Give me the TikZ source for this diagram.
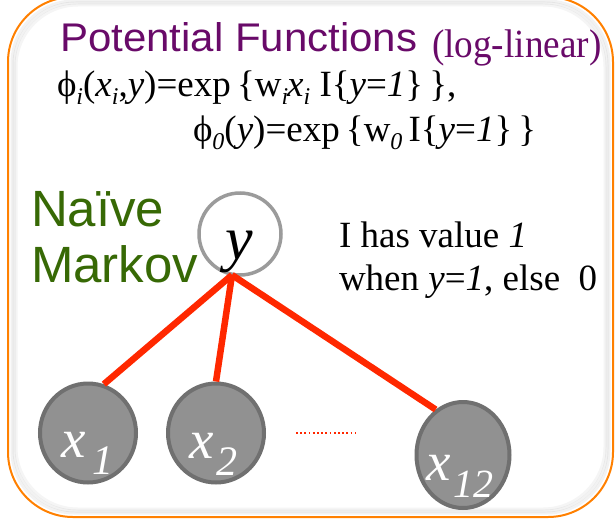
\documentclass[tikz,border=0pt]{standalone}
\usepackage{fontspec}
\setmainfont{Liberation Serif}
\newfontfamily\sansf{Liberation Sans}
\usetikzlibrary{shapes.geometric}
\definecolor{orangeb}{RGB}{255,128,0}
\definecolor{purp}{RGB}{105,10,105}
\definecolor{greenn}{RGB}{55,105,5}
\definecolor{redl}{RGB}{255,40,0}
\definecolor{nodefill}{RGB}{145,145,145}
\definecolor{nodedraw}{RGB}{112,112,112}
\definecolor{ycirc}{RGB}{155,155,155}
\newcommand\fs[1]{\fontsize{#1}{#1}\selectfont}
\newcommand\sbi[1]{\raisebox{-0.22em}{\fs{24}\itshape #1}}
\begin{document}
\begin{tikzpicture}[x=1pt,y=-1pt,
  txt/.style={anchor=base west,inner sep=0pt,outer sep=0pt},
  obs/.style={ellipse,draw=nodedraw,fill=nodefill,line width=4pt,inner sep=0pt},
  edgeline/.style={draw=redl,line width=6.5pt},
  shade/.style={draw=black,line width=3pt,rounded corners=62pt}
]
\useasboundingbox (0,0) rectangle (615,519);
\fill[white] (0,0) rectangle (615,519);
% soft shadow
\draw[shade,opacity=0.05] (12,1) rectangle (609,513);
\draw[shade,opacity=0.05] (14,3) rectangle (607,511);
\draw[shade,opacity=0.04] (16,5) rectangle (605,509);
\draw[orangeb,line width=2pt,rounded corners=65pt] (8,-3) rectangle (613,517);
% texts
\node[txt,text=purp] (title) at (60,52) {\scalebox{1.05}[1]{\sansf\fs{40}Potential Functions}};
\node[txt,text=purp] (loglin) at (432,58) {\scalebox{0.93}[1]{\fs{40}(log-linear)}};
\node[txt] (eq1) at (57,96) {\fs{37}ϕ\sbi{i}(\textit{x}\sbi{i},\textit{y})=exp\,\{w\sbi{i}\kern-1pt\textit{x}\sbi{i} I\{\textit{y}=\textit{1}\}\,\},};
\node[txt] (eq2) at (193,141) {\fs{37}ϕ\sbi{0}(\textit{y})=exp\,\{w\sbi{0}\,I\{\textit{y}=\textit{1}\}\,\}};
\node[txt,text=greenn] (naive) at (31,226) {\sansf\fs{51}Naïve};
\node[txt,text=greenn] (markov) at (31,282) {\sansf\fs{51}Markov};
\node[txt] (note1) at (339,247) {\fs{37}I has value \textit{1}};
\node[txt] (note2) at (339,290) {\fs{37}when \textit{y}=\textit{1}, else~ 0};
% y node
\node[circle,draw=ycirc,line width=3.5pt,minimum size=82pt,inner sep=0pt] (y) at (240,234) {};
\node[txt] (ylab) at (225,259) {\fs{62}\itshape y};
\coordinate (yb) at (232,275);
% observed nodes
\node[obs,minimum width=96pt,minimum height=99pt] (x1) at (88,433) {};
\node[obs,minimum width=96pt,minimum height=99pt] (x2) at (216,433) {};
\node[obs,minimum width=93pt,minimum height=106pt] (x12) at (463,455) {};
\node[txt,text=white] (x1l) at (61,457) {\fs{55}\itshape x\kern7pt\raisebox{-17pt}{\fs{42}1}};
\node[txt,text=white] (x2l) at (189,458) {\fs{55}\itshape x\kern3pt\raisebox{-17pt}{\fs{42}2}};
\node[txt,text=white] (x12l) at (426,480) {\fs{55}\itshape x\kern3pt\raisebox{-17pt}{\fs{40}12}};
% edges
\draw[edgeline] (yb) -- (x1.72);
\draw[edgeline] (yb) -- (x2.north);
\draw[edgeline] (yb) -- (x12.121);
\coordinate (d1) at (296,433);
\coordinate (d2) at (356,433);
\draw[redl,line width=1.8pt,dash pattern=on 1.8pt off 2.4pt] (d1) -- (d2);
\end{tikzpicture}
\end{document}
